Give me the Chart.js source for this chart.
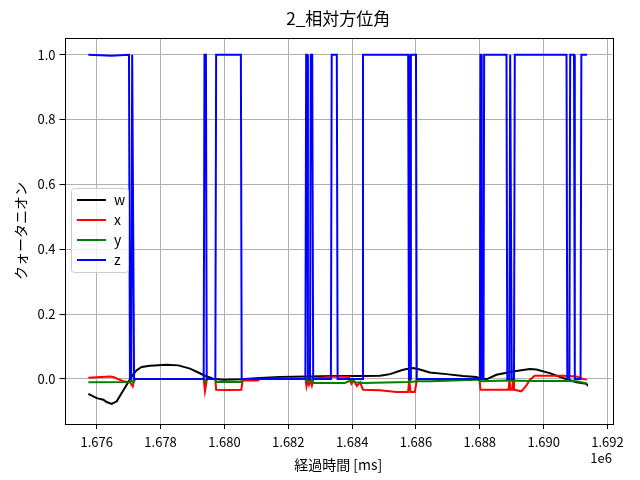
<!DOCTYPE html>
<html lang="ja">
<head>
<meta charset="utf-8">
<title>2_相対方位角</title>
<script src="https://cdn.jsdelivr.net/npm/chart.js@4.4.1/dist/chart.umd.min.js"></script>
<style>
    html, body { margin: 0; padding: 0; background: #ffffff; }
    canvas { display: block; }
</style>
</head>
<body>
<canvas id="quatChart" width="640" height="480"></canvas>
<script>
// Quaternion components over elapsed time [ms]

const chartTitle = '2_相対方位角';

const wTime = [1675737, 1676000, 1676206, 1676313, 1676469, 1676626, 1676782, 1676939, 1677095, 1677252,
    1677408, 1677668, 1678191, 1678556, 1678920, 1679180, 1679390, 1679650, 1679963, 1680500,
    1681110, 1681737, 1682573, 1683512, 1684344, 1684867, 1685024, 1685180, 1685283, 1685546,
    1685703, 1685909, 1686119, 1686432, 1686955, 1687474, 1687893, 1688000, 1688207, 1688520,
    1689040, 1689563, 1689772, 1690188, 1690606, 1691025, 1691337, 1691356];
const wValue = [-0.046, -0.059, -0.064, -0.071, -0.077, -0.069, -0.043, -0.018, 0.008, 0.027,
    0.037, 0.041, 0.044, 0.042, 0.032, 0.020, 0.010, 0.001, -0.002, -0.001,
    0.003, 0.006, 0.008, 0.009, 0.009, 0.010, 0.012, 0.015, 0.018, 0.027,
    0.031, 0.034, 0.029, 0.020, 0.015, 0.009, 0.006, 0.002, -0.001, 0.013,
    0.023, 0.031, 0.029, 0.018, 0.003, -0.010, -0.015, -0.017];

const xTime = [1675737, 1676416, 1676520, 1676830, 1677042, 1677127, 1677160, 1677200,
    1679350, 1679390, 1679450,
    1679715, 1679740, 1680100, 1680530, 1680570, 1681050, 1681090,
    1681997, 1682540, 1682570, 1682610, 1682650, 1682700, 1682740, 1682790,
    1683300, 1683500, 1683900, 1683980, 1684050, 1684150, 1684250, 1684300, 1684344,
    1684867, 1685390, 1685753, 1685790, 1685830, 1685962, 1686034,
    1687990, 1688019, 1688833, 1688900, 1688930, 1688960, 1689020, 1689040, 1689070,
    1689303, 1689460, 1689563, 1689719, 1690086, 1690606, 1691025, 1691231, 1691356];
const xValue = [0.004, 0.008, 0.006, -0.007, -0.010, -0.023, -0.008, 0.000,
    0.000, -0.038, 0.000,
    0.000, -0.033, -0.034, -0.033, -0.005, -0.005, 0.000,
    0.002, 0.000, -0.023, -0.005, -0.018, -0.005, -0.020, 0.002,
    0.006, 0.008, 0.006, -0.015, -0.005, -0.022, -0.010, -0.024, -0.033,
    -0.035, -0.040, -0.040, -0.002, -0.040, -0.040, 0.000,
    0.000, -0.033, -0.033, -0.033, -0.002, -0.033, -0.033, -0.002, -0.033,
    -0.038, -0.020, -0.003, 0.010, 0.010, 0.010, 0.008, 0.000, -0.002];

const yTime = [1675737, 1677000, 1677100, 1677150, 1677200,
    1679350, 1679400, 1679450,
    1679715, 1679740, 1680530, 1680560,
    1682540, 1682580, 1682620, 1682700, 1682740, 1682800, 1683772, 1683900, 1684000, 1684100, 1684344,
    1685753, 1685800, 1685850, 1686000, 1686432, 1687893, 1688050, 1688833, 1689563, 1690606, 1691025, 1691356];
const yValue = [-0.010, -0.009, -0.006, -0.010, 0.000,
    0.000, -0.008, 0.000,
    0.000, -0.009, -0.009, 0.000,
    0.000, -0.008, 0.000, -0.006, 0.000, -0.012, -0.012, -0.007, -0.003, -0.010, -0.012,
    -0.009, -0.004, -0.009, -0.007, -0.007, -0.002, -0.007, -0.005, -0.006, -0.006, -0.007, -0.014];

const zTime = [1675737, 1676469, 1677010, 1677040, 1677080, 1677110, 1677130, 1677170,
    1679350, 1679375, 1679420, 1679445,
    1679715, 1679740, 1680515, 1680540,
    1682535, 1682560, 1682590, 1682615,
    1682680, 1682705, 1682750, 1682780,
    1683335, 1683360, 1683520, 1683545,
    1684315, 1684340, 1685755, 1685780,
    1685815, 1685840, 1686000, 1686025,
    1688000, 1688020, 1688040, 1688060,
    1688115, 1688135, 1688835, 1688860,
    1688925, 1688950, 1688975, 1689000,
    1689070, 1689095, 1690715, 1690740,
    1690805, 1690830, 1690950, 1690975,
    1691155, 1691180, 1691356];
const zValue = [1.0, 0.997, 1.0, 0, 0, 1.0, 1.0, 0,
    0, 1, 1, 0,
    0, 1, 1, 0,
    0, 1, 1, 0,
    0, 1, 1, 0,
    0, 1, 1, 0,
    0, 1, 1, 0,
    0, 1, 1, 0,
    0, 1, 1, 0,
    0, 1, 1, 0,
    0, 1, 1, 0,
    0, 1, 1, 0,
    0, 1, 1, 0,
    0, 1, 1];

const seriesLabels = ['w', 'x', 'y', 'z'];
const seriesColors = ['#000000', '#ff0000', '#008000', '#0000ff'];

const xTickValues = [1676000, 1678000, 1680000, 1682000, 1684000, 1686000, 1688000, 1690000, 1692000];
const yTickValues = [0.0, 0.2, 0.4, 0.6, 0.8, 1.0];

const FONT = '"Noto Sans CJK JP", "Noto Sans", sans-serif';

function toPoints(times, values) {
    return times.map((t, i) => ({ x: t, y: values[i] }));
}

// title centred over the axes, frame around the plot area and the "1e6" offset text
const framePlugin = {
    id: 'framePlugin',
    afterDatasetsDraw(chart) {
        const a = chart.chartArea;
        const ctx = chart.ctx;
        ctx.save();
        ctx.strokeStyle = '#000000';
        ctx.lineWidth = 1;
        ctx.strokeRect(Math.round(a.left) + 0.5, Math.round(a.top) + 0.5,
            Math.round(a.right - a.left), Math.round(a.bottom - a.top));
        ctx.fillStyle = '#000000';
        ctx.font = '13px ' + FONT;
        ctx.textAlign = 'right';
        ctx.textBaseline = 'middle';
        ctx.fillText('1e6', a.right, 458);
        ctx.font = '17px ' + FONT;
        ctx.textAlign = 'center';
        ctx.fillText(chartTitle, (a.left + a.right) / 2, 19);
        ctx.restore();
    }
};

const boxLegend = {
    id: 'boxLegend',
    afterDraw(chart) {
        const ctx = chart.ctx;
        const x0 = 71.5, y0 = 188.5, w = 57, h = 84, r = 3;
        ctx.save();
        ctx.beginPath();
        ctx.moveTo(x0 + r, y0);
        ctx.arcTo(x0 + w, y0, x0 + w, y0 + h, r);
        ctx.arcTo(x0 + w, y0 + h, x0, y0 + h, r);
        ctx.arcTo(x0, y0 + h, x0, y0, r);
        ctx.arcTo(x0, y0, x0 + w, y0, r);
        ctx.closePath();
        ctx.fillStyle = 'rgba(255, 255, 255, 0.8)';
        ctx.fill();
        ctx.strokeStyle = '#cccccc';
        ctx.lineWidth = 1;
        ctx.stroke();

        ctx.font = '14px ' + FONT;
        ctx.textAlign = 'left';
        ctx.textBaseline = 'middle';
        chart.data.datasets.forEach((ds, i) => {
            const y = 200 + i * 20;
            ctx.strokeStyle = ds.borderColor;
            ctx.lineWidth = 2;
            ctx.beginPath();
            ctx.moveTo(77, y);
            ctx.lineTo(106, y);
            ctx.stroke();
            ctx.fillStyle = '#000000';
            ctx.fillText(ds.label, 114, y);
        });
        ctx.restore();
    }
};

const datasets = [
    { label: seriesLabels[0], data: toPoints(wTime, wValue), borderColor: seriesColors[0], order: 4 },
    { label: seriesLabels[1], data: toPoints(xTime, xValue), borderColor: seriesColors[1], order: 3 },
    { label: seriesLabels[2], data: toPoints(yTime, yValue), borderColor: seriesColors[2], order: 2 },
    { label: seriesLabels[3], data: toPoints(zTime, zValue), borderColor: seriesColors[3], order: 1 }
].map(ds => Object.assign(ds, {
    backgroundColor: ds.borderColor,
    borderWidth: 2,
    pointRadius: 0,
    tension: 0,
    fill: false
}));

Chart.defaults.font.family = FONT;
Chart.defaults.color = '#000000';

new Chart(document.getElementById('quatChart').getContext('2d'), {
    type: 'line',
    data: { datasets: datasets },
    plugins: [framePlugin, boxLegend],
    options: {
        responsive: false,
        animation: false,
        devicePixelRatio: 1,
        layout: { padding: { left: 0, right: 28, top: 38, bottom: 0 } },
        plugins: {
            legend: { display: false },
            tooltip: { enabled: false },
            title: { display: false }
        },
        scales: {
            x: {
                type: 'linear',
                min: 1674990,
                max: 1692140,
                afterFit: scale => { scale.height = 56; },
                afterBuildTicks: scale => { scale.ticks = xTickValues.map(v => ({ value: v })); },
                ticks: {
                    font: { size: 13 },
                    color: '#000000',
                    padding: 5,
                    maxRotation: 0,
                    autoSkip: false,
                    callback: value => (value / 1e6).toFixed(3)
                },
                grid: { color: '#b0b0b0', lineWidth: 1, tickColor: '#000000', tickLength: 5 },
                border: { display: false },
                title: {
                    display: true,
                    text: '経過時間 [ms]',
                    font: { size: 14 },
                    color: '#000000',
                    padding: { top: 0, bottom: 7 }
                }
            },
            y: {
                type: 'linear',
                min: -0.1388,
                max: 1.0515,
                afterFit: scale => { scale.width = 64.5; },
                afterBuildTicks: scale => { scale.ticks = yTickValues.map(v => ({ value: v })); },
                ticks: {
                    font: { size: 13 },
                    color: '#000000',
                    padding: 4,
                    autoSkip: false,
                    callback: value => value.toFixed(1)
                },
                grid: { color: '#b0b0b0', lineWidth: 1, tickColor: '#000000', tickLength: 5 },
                border: { display: false },
                title: {
                    display: true,
                    text: 'クォータニオン',
                    font: { size: 14 },
                    color: '#000000',
                    padding: { top: 12, bottom: 0 }
                }
            }
        }
    }
});
</script>
</body>
</html>
